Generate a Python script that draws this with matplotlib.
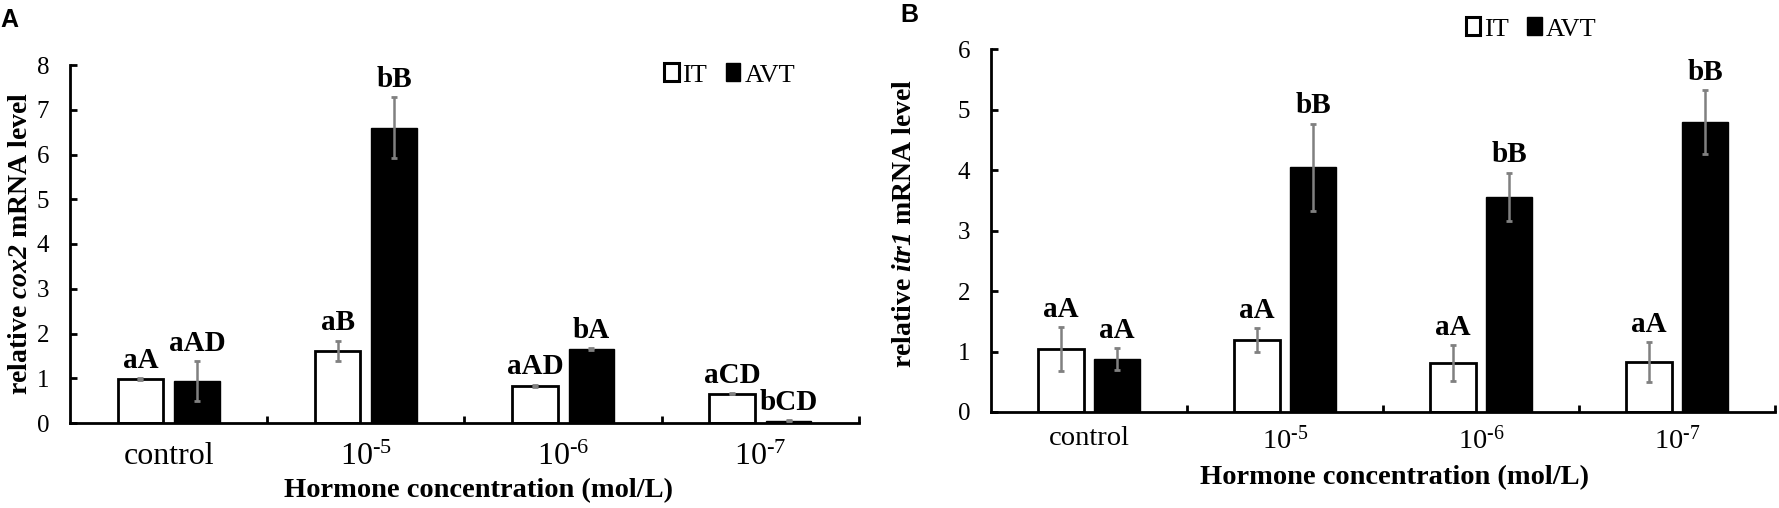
import numpy as np
import matplotlib
matplotlib.use("Agg")
import matplotlib.pyplot as plt
from matplotlib.patches import Patch

plt.rcParams['font.family'] = ['Liberation Serif', 'DejaVu Serif']
plt.rcParams['mathtext.fontset'] = 'custom'
plt.rcParams['mathtext.rm'] = 'Liberation Serif'
plt.rcParams['mathtext.it'] = 'Liberation Serif:italic'
plt.rcParams['mathtext.bf'] = 'Liberation Serif:bold'
plt.rcParams['mathtext.bfit'] = 'Liberation Serif:italic:bold'
plt.rcParams['mathtext.default'] = 'regular'

categories = ['control', '10$^{\u20105}$', '10$^{\u20106}$', '10$^{\u20107}$']

# panel A: cox2
cox2_it = [0.98, 1.61, 0.83, 0.65]
cox2_it_err = [0.02, 0.23, 0.03, 0.01]
cox2_avt = [0.94, 6.60, 1.65, 0.05]
cox2_avt_err = [0.45, 0.68, 0.02, 0.01]
cox2_it_lab = ['aA', 'aB', 'aAD', 'aCD']
cox2_avt_lab = ['aAD', 'bB', 'bA', 'bCD']

# panel B: itr1
itr1_it = [1.04, 1.19, 0.81, 0.83]
itr1_it_err = [0.36, 0.20, 0.30, 0.33]
itr1_avt = [0.88, 4.05, 3.56, 4.80]
itr1_avt_err = [0.18, 0.72, 0.40, 0.53]
itr1_it_lab = ['aA', 'aA', 'aA', 'aA']
itr1_avt_lab = ['aA', 'bB', 'bB', 'bB']

W, H = 1779, 508
fig = plt.figure(figsize=(W / 100, H / 100), dpi=100)
axA = fig.add_axes([70 / W, 1 - 423 / H, (859 - 70) / W, (423 - 65) / H])
axB = fig.add_axes([991 / W, 1 - 412 / H, (1775 - 991) / W, (412 - 49.3) / H])

x = np.arange(len(categories))
width = 0.23
off = 0.143
ecol = '#808080'


def draw(ax, it, it_err, avt, avt_err, it_lab, avt_lab, ymax, ylabel, xlim_right, cat_fs, xpad):
    ax.bar(x - off, it, width, color='white', edgecolor='black', linewidth=2, zorder=2)
    ax.bar(x + off, avt, width, color='black', edgecolor='black', linewidth=1, zorder=2)
    ax.errorbar(x - off, it, yerr=it_err, fmt='none', ecolor=ecol, elinewidth=1.8,
                capsize=2.5, capthick=2, zorder=3)
    ax.errorbar(x + off, avt, yerr=avt_err, fmt='none', ecolor=ecol, elinewidth=1.8,
                capsize=2.5, capthick=2, zorder=3)
    for xs, vals, errs, labs in [(x - off, it, it_err, it_lab), (x + off, avt, avt_err, avt_lab)]:
        for xi, v, e, lab in zip(xs, vals, errs, labs):
            ax.annotate(lab, xy=(xi, v + e), xytext=(0, 3), textcoords='offset points',
                        ha='center', va='bottom', fontsize=21, fontweight='bold')

    ax.set_xlim(-0.5, xlim_right)
    ax.set_ylim(0, ymax)
    ax.set_yticks(np.arange(0, ymax + 1, 1))
    ax.set_xticks(x)
    ax.set_xticklabels(categories, fontsize=cat_fs)
    ax.set_xticks(np.arange(0.5, 4.0, 1.0), minor=True)
    ax.tick_params(axis='x', which='major', length=0, pad=xpad)
    ax.tick_params(axis='x', which='minor', direction='in', length=5, width=2)
    ax.tick_params(axis='y', direction='in', length=5, width=2, labelsize=18, pad=15)
    for s in ['top', 'right']:
        ax.spines[s].set_visible(False)
    for s in ['left', 'bottom']:
        ax.spines[s].set_linewidth(2)
    ax.set_ylabel(ylabel, fontsize=20, fontweight='bold')
    ax.set_xlabel('Hormone concentration (mol/L)', fontsize=20.5, fontweight='bold')
    ax.xaxis.label.set_va('center')
    ax.yaxis.label.set_va('center')


draw(axA, cox2_it, cox2_it_err, cox2_avt, cox2_avt_err, cox2_it_lab, cox2_avt_lab,
     8, r'relative $\mathbfit{cox2}$ mRNA level', 3.39, 23, 14)
draw(axB, itr1_it, itr1_it_err, itr1_avt, itr1_avt_err, itr1_it_lab, itr1_avt_lab,
     6, r'relative $\mathbfit{itr1}$ mRNA level', 3.5, 20.5, 10)

axA.xaxis.set_label_coords(0.518, -0.19)
axA.yaxis.set_label_coords(-0.063, 0.5)
axB.xaxis.set_label_coords(0.515, -0.182)
axB.yaxis.set_label_coords(-0.11, 0.52)

handles = [Patch(facecolor='white', edgecolor='black', linewidth=2.2, label='IT'),
           Patch(facecolor='black', edgecolor='black', label='AVT')]
for ax, loc in [(axA, (0.836, 0.972)), (axB, (0.689, 1.056))]:
    ax.legend(handles=handles, loc='center', bbox_to_anchor=loc, ncol=2, frameon=False,
              fontsize=19, handlelength=0.55, handleheight=0.65, handletextpad=0.15,
              columnspacing=0.7, borderpad=0)

fig.text(0 / W, 1 - 20 / H, 'A', fontsize=18, fontweight='bold',
         family=['Liberation Sans', 'DejaVu Sans'], va='center', ha='left')
fig.text(900 / W, 1 - 15 / H, 'B', fontsize=18, fontweight='bold',
         family=['Liberation Sans', 'DejaVu Sans'], va='center', ha='left')

fig.savefig('out.png', dpi=100)
